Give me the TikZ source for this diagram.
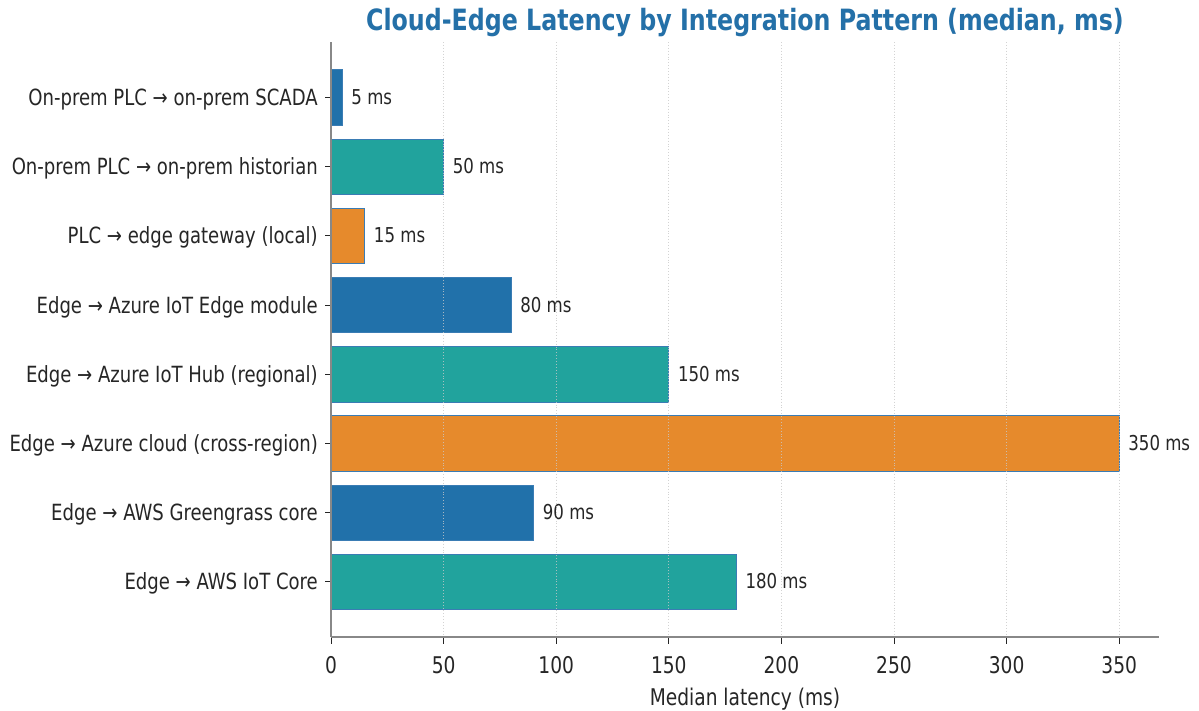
\documentclass[tikz,border=0pt]{standalone}
\usepackage{fontspec}
\setmainfont{DejaVu Sans Condensed}[FakeStretch=0.9]
\definecolor{cblue}{HTML}{2171AA}
\definecolor{cteal}{HTML}{21A39D}
\definecolor{corange}{HTML}{E68A2C}
\definecolor{cedge}{HTML}{3A7CB4}
\definecolor{ctitle}{HTML}{2470A8}
\definecolor{ctext}{HTML}{262626}
\definecolor{cspine}{HTML}{888888}
\definecolor{cgrid}{HTML}{C8C8C8}
\begin{document}
\begin{tikzpicture}[x=1pt,y=-1pt,
  barst/.style={draw=cedge, line width=0.8pt},
  ylab/.style={anchor=base east, inner sep=0pt, text=ctext, font=\fontsize{22.3}{26}\selectfont},
  vlab/.style={anchor=base west, inner sep=0pt, text=ctext, font=\fontsize{20.5}{24}\selectfont},
  xlab/.style={anchor=base, inner sep=0pt, text=ctext, font=\fontsize{23}{27}\selectfont},
  tickst/.style={draw=ctext, line width=1pt},
  spine/.style={draw=cspine, line width=1.2pt},
  gridst/.style={draw=cgrid, line width=0.9pt, dotted, opacity=0.8}]
\useasboundingbox (0,0) rectangle (1199,710);
\fill[white] (0,0) rectangle (1199,710);
% bars
\foreach \v/\c/\t [count=\i from 0] in {
  5/cblue/On-prem PLC → on-prem SCADA,
  50/cteal/On-prem PLC → on-prem historian,
  15/corange/PLC → edge gateway (local),
  80/cblue/Edge → Azure IoT Edge module,
  150/cteal/Edge → Azure IoT Hub (regional),
  350/corange/Edge → Azure cloud (cross-region),
  90/cblue/Edge → AWS Greengrass core,
  180/cteal/Edge → AWS IoT Core}{
  \pgfmathsetmacro\yc{97.5+69.2*\i}
  \pgfmathsetmacro\xe{331+2.252*\v}
  \draw[barst, fill=\c] (331,\yc-27.7) rectangle (\xe,\yc+27.7);
  \draw[tickst] (325,\yc) -- (331,\yc);
  \node[ylab] (y\i) at (318,\yc+8) {\t};
  \node[vlab] (v\i) at (\xe+9,\yc+7) {\v\ ms};
}
% grid and x ticks
\foreach \v [count=\j from 0] in {0,50,...,350}{
  \pgfmathsetmacro\xx{331+2.252*\v}
  \ifnum\v>0 \draw[gridst] (\xx,42) -- (\xx,637); \fi
  \draw[tickst] (\xx,637) -- (\xx,644);
  \node[xlab] (x\j) at (\xx,673) {\v};
}
% spines
\draw[spine] (331,42) -- (331,637);
\draw[spine] (331,637) -- (1159,637);
% axis label and title
\node[xlab] (xl) at (745,705) {Median latency (ms)};
\node[anchor=base, inner sep=0pt, text=ctitle, font=\fontsize{29.3}{33}\selectfont\bfseries] (title) at (745,30) {Cloud-Edge Latency by Integration Pattern (median, ms)};
\end{tikzpicture}
\end{document}
